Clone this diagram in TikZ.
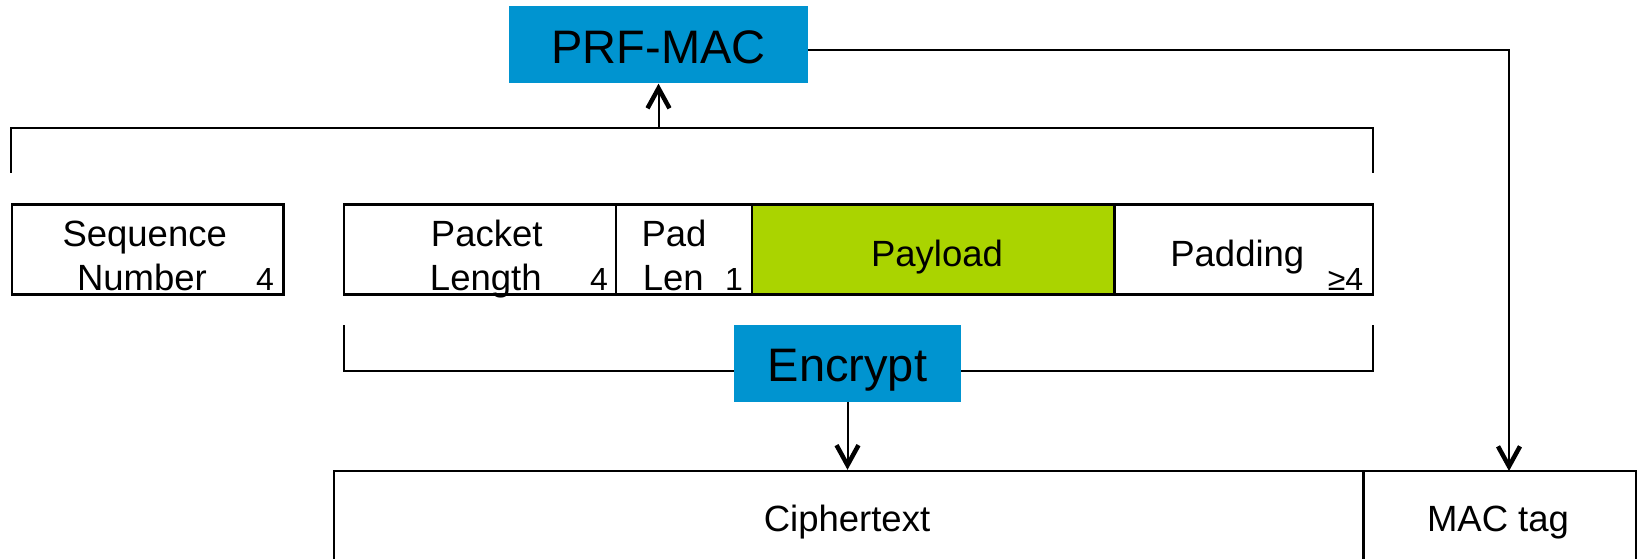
\documentclass[tikz,border=0pt]{standalone}
\usepackage{fontspec}
\setmainfont{Liberation Sans}
\usetikzlibrary{arrows.meta}

\definecolor{boxblue}{RGB}{0,148,208}
\definecolor{payloadgreen}{RGB}{170,212,0}

\begin{document}
\begin{tikzpicture}[x=1pt,y=-1pt,
  cell/.style={draw, line width=2.4pt, inner sep=0pt, minimum height=90.2pt},
  opbox/.style={fill=boxblue, inner sep=0pt, text height=37pt, text depth=0pt,
                font=\fontsize{47}{52}\selectfont},
  lbl/.style={inner sep=0pt, anchor=base, font=\fontsize{36.5}{42}\selectfont},
  num/.style={inner sep=0pt, anchor=base, font=\fontsize{32}{36}\selectfont},
  wire/.style={line width=2pt},
  arr/.style={wire, -{Straight Barb[length=20pt,width=22pt,line width=4.5pt]}}]

\useasboundingbox (0,0) rectangle (1639,559);
\clip (0,0) rectangle (1639,559);

% bracket collecting sequence number and packet for the MAC
\coordinate (tl) at (10.5,173);
\coordinate (tr) at (1372.8,173);
\coordinate (tm) at (658.5,128);
\draw[wire] (tl) |- (tm) -| (tr);

% bracket collecting the packet for encryption
\coordinate (bl) at (343.6,325);
\coordinate (br) at (1372.8,325);
\coordinate (bm) at (847.5,370.7);
\draw[wire] (bl) |- (bm) -| (br);

% packet fields
\node[cell, minimum width=271.5pt] (seq) at (147.8,249.4) {};
\node[cell, minimum width=272pt] (plen) at (480,249.4) {};
\node[cell, minimum width=136pt] (padlen) at (684,249.4) {};
\node[cell, fill=payloadgreen, minimum width=362.5pt] (payload) at (933.2,249.4) {};
\node[cell, minimum width=258.3pt] (padding) at (1243.6,249.4) {};

\node[lbl] (tseq1) at (144.7,246.7) {Sequence};
\node[lbl] (tseq2) at (142,290) {Number};
\node[num] (nseq) at (265,290) {4};
\node[lbl] (tplen1) at (486.7,246.7) {Packet};
\node[lbl] (tplen2) at (485.8,290) {Length};
\node[num] (nplen) at (599,290) {4};
\node[lbl] (tpad1) at (674,246.7) {Pad};
\node[lbl] (tpad2) at (673.3,290) {Len};
\node[num] (npad) at (734,290) {1};
\node[lbl] (tpay) at (937,266) {Payload};
\node[lbl] (tpadding) at (1237.3,266) {Padding};
\node[num] (npadding) at (1345.5,290) {≥4};

% operations
\node[opbox, minimum width=299pt, minimum height=77.5pt] (prfmac) at (658.5,44.7) {PRF-MAC};
\node[opbox, minimum width=227pt, minimum height=76.7pt] (encrypt) at (847.5,363.3) {Encrypt};

% output record
\node[cell, minimum width=1029.8pt, minimum height=129pt] (cipher) at (848.6,535.5) {};
\node[cell, minimum width=272.5pt, minimum height=129pt] (mactag) at (1499.75,535.5) {};
\node[lbl] (tcipher) at (847,531.7) {Ciphertext};
\node[lbl] (tmac) at (1498,531.7) {MAC tag};

% connectors
\coordinate (macin) at (1509,471);
\draw[arr] (tm) -- (prfmac.south);
\draw[arr] ([yshift=-5.3pt]prfmac.east) -| (macin);
\draw[arr] (encrypt.south) -- (encrypt.south |- cipher.north);
\end{tikzpicture}
\end{document}
